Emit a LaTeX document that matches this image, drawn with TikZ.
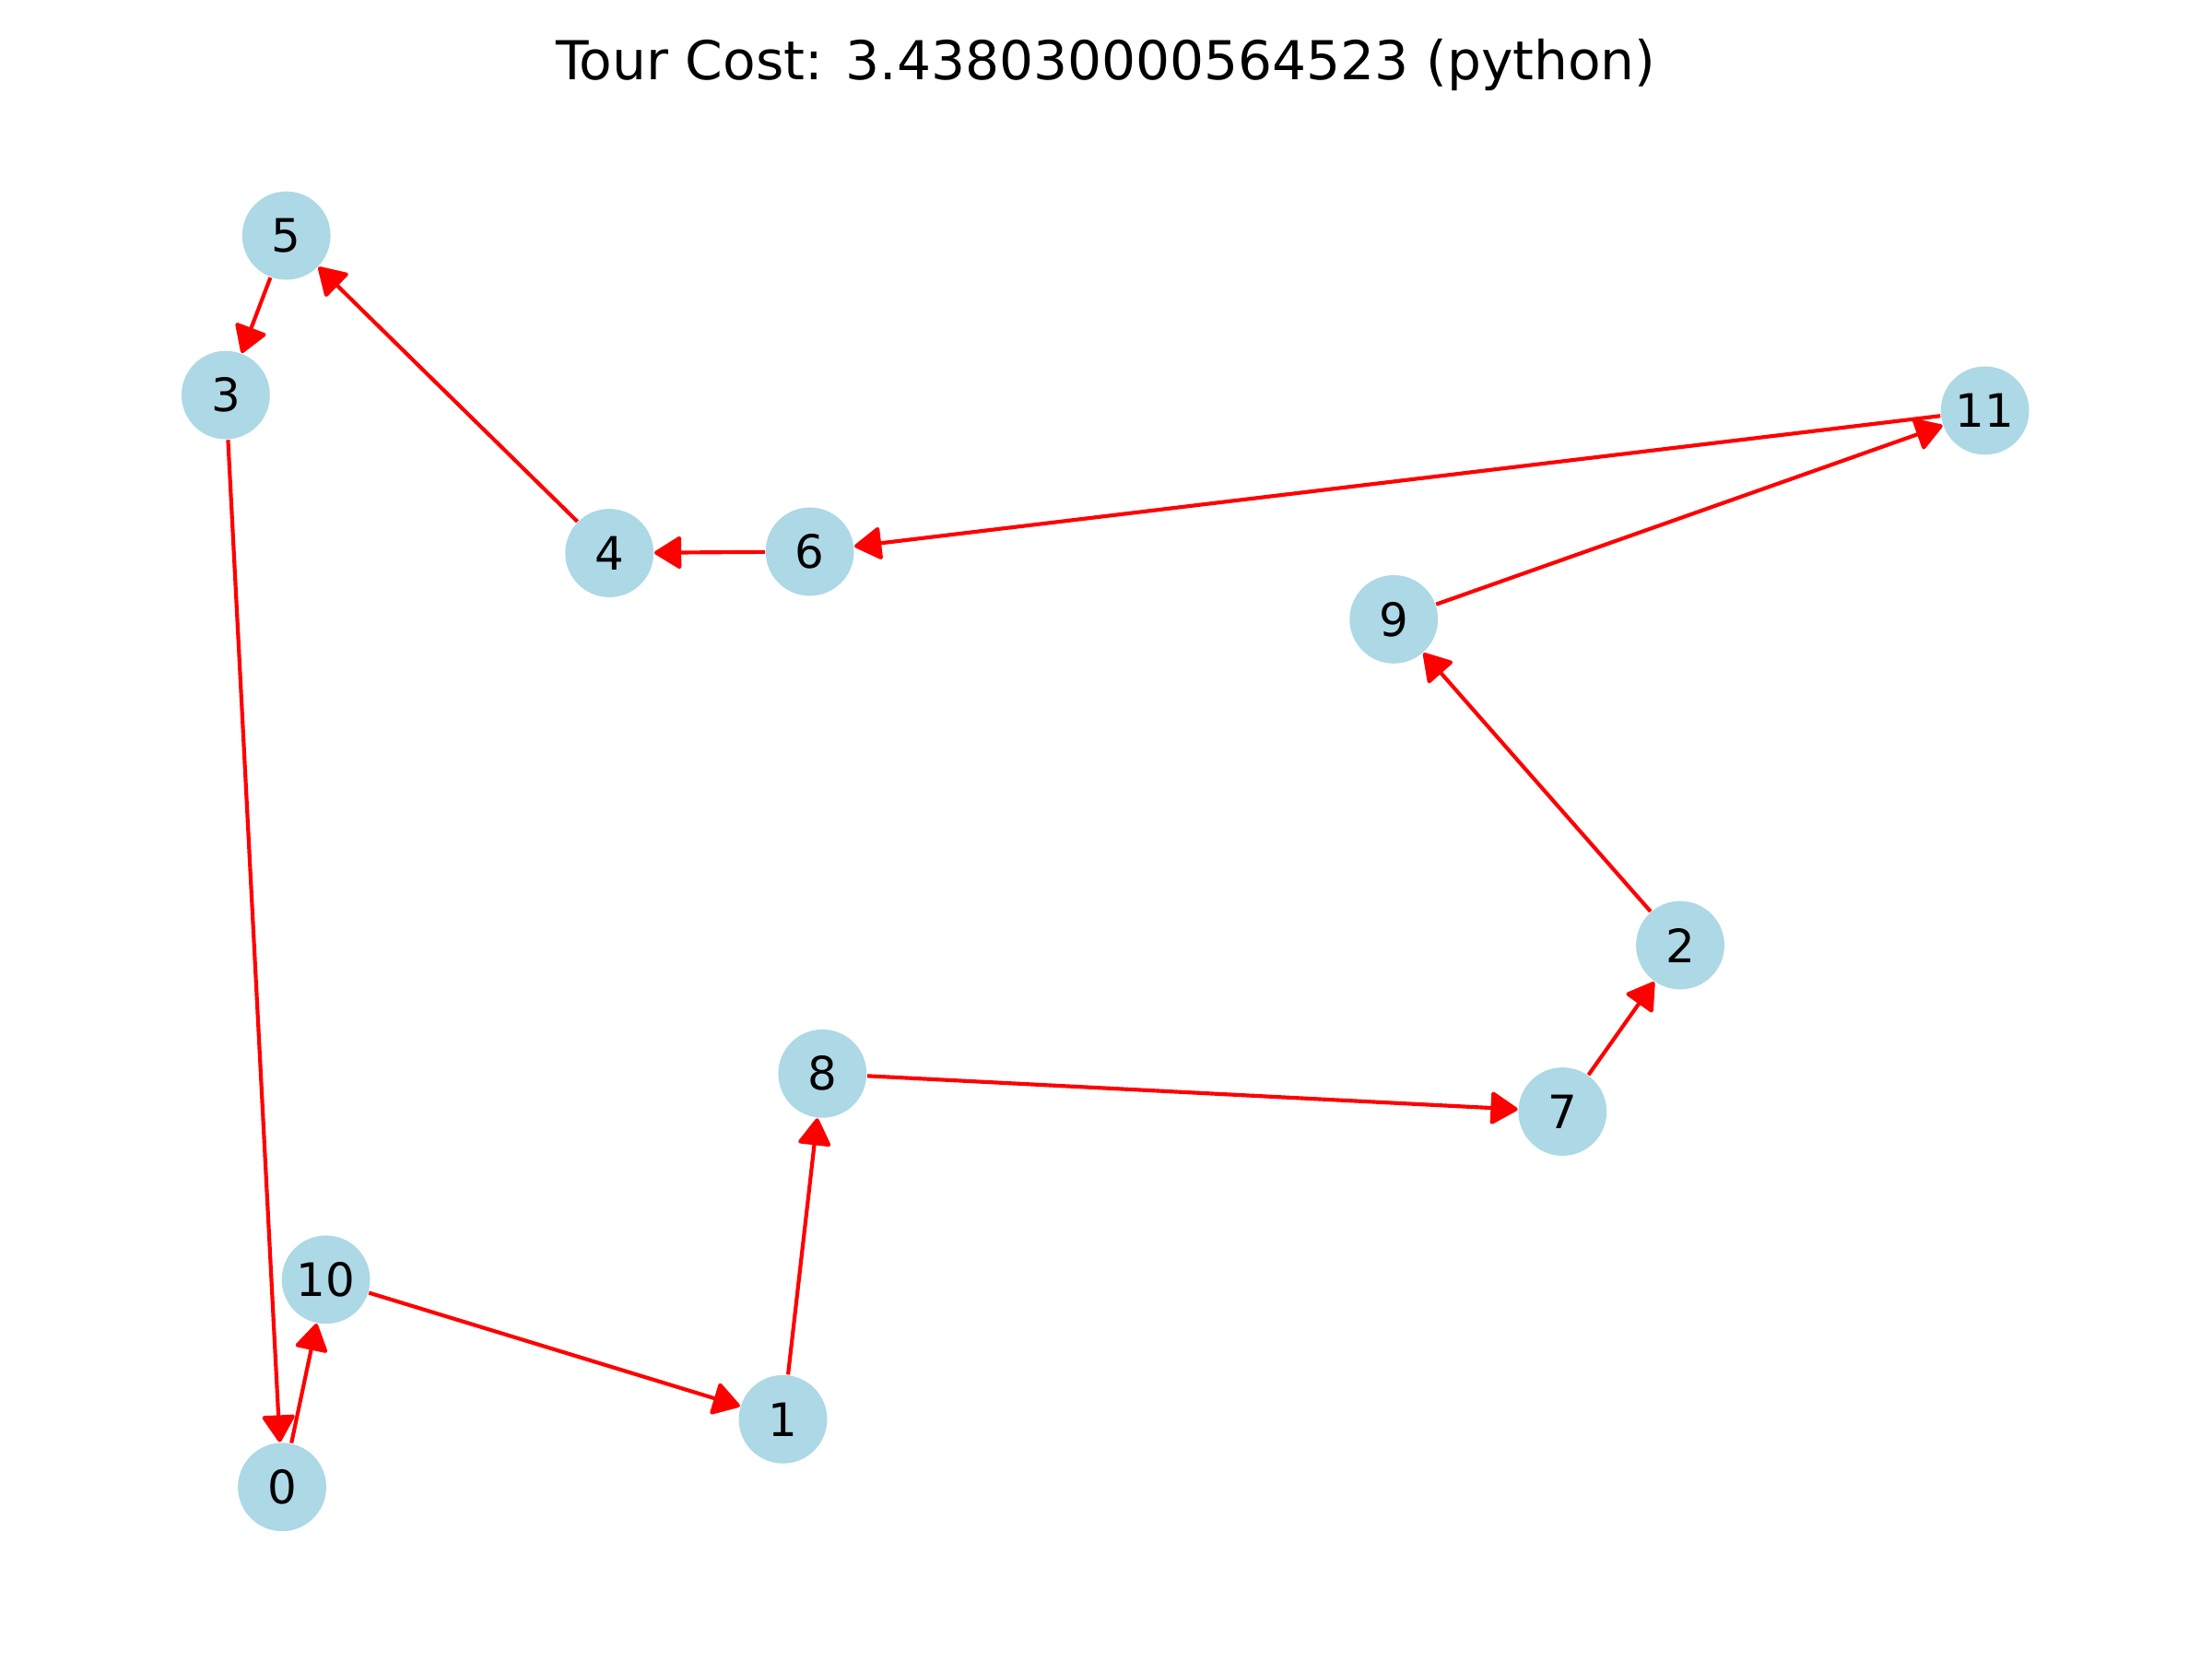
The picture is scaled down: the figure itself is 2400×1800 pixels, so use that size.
\documentclass[tikz,border=0pt]{standalone}
\usepackage{fontspec}
\setmainfont{DejaVu Sans}
\usetikzlibrary{arrows.meta}
\definecolor{nodeblue}{HTML}{ADD8E6}
\definecolor{edgered}{HTML}{FF0000}
\tikzset{
  tnode/.style={circle, fill=nodeblue, draw=none, minimum size=23.04pt, inner sep=0pt, font=\fontsize{12}{14}\selectfont},
  tedge/.style={draw=edgered, line width=1pt, -{Triangle[length=7.5pt, width=9pt, round]}},
}
\begin{document}
\begin{tikzpicture}[x=0.0033333in, y=-0.0033333in]
\useasboundingbox (0,0) rectangle (2400,1800);
\node[font=\fontsize{14}{16}\selectfont] (title) at (1200,70) {Tour Cost: 3.438030000564523 (python)};
\node[tnode] (n5) at (310.7,255.6) {5};
\node[tnode] (n3) at (244.9,428.6) {3};
\node[tnode] (n11) at (2153.6,445.4) {11};
\node[tnode] (n4) at (661.2,600.0) {4};
\node[tnode] (n6) at (878.6,598.5) {6};
\node[tnode] (n9) at (1512.2,671.9) {9};
\node[tnode] (n2) at (1823.0,1025.5) {2};
\node[tnode] (n8) at (892.3,1164.8) {8};
\node[tnode] (n7) at (1695.3,1206.0) {7};
\node[tnode] (n10) at (353.6,1388.3) {10};
\node[tnode] (n1) at (849.5,1539.8) {1};
\node[tnode] (n0) at (306.1,1613.3) {0};
\draw[tedge] (n5) -- (n3);
\draw[tedge] (n3) -- (n0);
\draw[tedge] (n0) -- (n10);
\draw[tedge] (n10) -- (n1);
\draw[tedge] (n1) -- (n8);
\draw[tedge] (n8) -- (n7);
\draw[tedge] (n7) -- (n2);
\draw[tedge] (n2) -- (n9);
\draw[tedge] (n9) -- (n11);
\draw[tedge] (n11) -- (n6);
\draw[tedge] (n6) -- (n4);
\draw[tedge] (n4) -- (n5);
\end{tikzpicture}
\end{document}
